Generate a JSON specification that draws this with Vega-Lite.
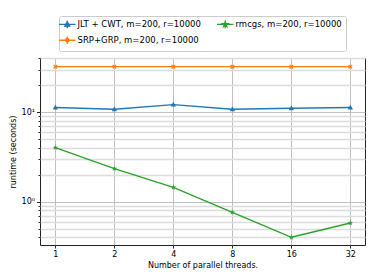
{
  "$schema": "https://vega.github.io/schema/vega-lite/v6.json",
  "width": 325,
  "height": 187,
  "autosize": "none",
  "padding": {"left": 40, "top": 58, "right": 9, "bottom": 35},
  "background": "white",
  "config": {
    "font": "DejaVu Sans",
    "view": {"stroke": "#222222", "strokeWidth": 1},
    "axis": {"labelFont": "DejaVu Sans", "titleFont": "DejaVu Sans", "labelFontSize": 8, "titleFontSize": 8, "titleFontWeight": "normal", "labelColor": "#000000", "titleColor": "#000000", "tickColor": "#222222", "domain": false, "gridColor": "#b0b0b0", "gridWidth": 0.8}
  },
  "data": {
    "values": [
      {"threads": 1, "method": "JLT + CWT, m=200, r=10000", "runtime": 11.3},
      {"threads": 2, "method": "JLT + CWT, m=200, r=10000", "runtime": 10.8},
      {"threads": 4, "method": "JLT + CWT, m=200, r=10000", "runtime": 12.2},
      {"threads": 8, "method": "JLT + CWT, m=200, r=10000", "runtime": 10.8},
      {"threads": 16, "method": "JLT + CWT, m=200, r=10000", "runtime": 11.1},
      {"threads": 32, "method": "JLT + CWT, m=200, r=10000", "runtime": 11.3},
      {"threads": 1, "method": "SRP+GRP, m=200, r=10000", "runtime": 32.4},
      {"threads": 2, "method": "SRP+GRP, m=200, r=10000", "runtime": 32.4},
      {"threads": 4, "method": "SRP+GRP, m=200, r=10000", "runtime": 32.4},
      {"threads": 8, "method": "SRP+GRP, m=200, r=10000", "runtime": 32.4},
      {"threads": 16, "method": "SRP+GRP, m=200, r=10000", "runtime": 32.4},
      {"threads": 32, "method": "SRP+GRP, m=200, r=10000", "runtime": 32.4},
      {"threads": 1, "method": "rmcgs, m=200, r=10000", "runtime": 4.02},
      {"threads": 2, "method": "rmcgs, m=200, r=10000", "runtime": 2.34},
      {"threads": 4, "method": "rmcgs, m=200, r=10000", "runtime": 1.45},
      {"threads": 8, "method": "rmcgs, m=200, r=10000", "runtime": 0.76},
      {"threads": 16, "method": "rmcgs, m=200, r=10000", "runtime": 0.40},
      {"threads": 32, "method": "rmcgs, m=200, r=10000", "runtime": 0.578}
    ]
  },
  "encoding": {
    "x": {
      "field": "threads", "type": "quantitative",
      "scale": {"type": "log", "base": 2, "domain": [0.835, 38], "nice": false},
      "axis": {"values": [1, 2, 4, 8, 16, 32], "title": "Number of parallel threads.", "tickSize": 3, "labelPadding": 2, "titlePadding": 3, "grid": true, "format": "d"}
    },
    "y": {
      "field": "runtime", "type": "quantitative",
      "scale": {"type": "log", "domain": [0.328, 40.5], "nice": false},
      "axis": {
        "values": [0.4, 0.5, 0.6, 0.7, 0.8, 0.9, 1, 2, 3, 4, 5, 6, 7, 8, 9, 10, 20, 30, 40],
        "labelExpr": "datum.value == 1 ? '10⁰' : datum.value == 10 ? '10¹' : ''",
        "title": "runtime (seconds)",
        "titlePadding": 4,
        "labelPadding": 2,
        "tickSize": {"condition": {"test": "datum.value == 1 || datum.value == 10", "value": 3.5}, "value": 2},
        "gridColor": {"condition": {"test": "datum.value == 1 || datum.value == 10", "value": "#b0b0b0"}, "value": "#dcdcdc"},
        "gridWidth": {"condition": {"test": "datum.value == 1 || datum.value == 10", "value": 0.8}, "value": 1.3}
      }
    },
    "color": {"field": "method", "type": "nominal",
      "scale": {"domain": ["JLT + CWT, m=200, r=10000", "rmcgs, m=200, r=10000", "SRP+GRP, m=200, r=10000"], "range": ["#1f77b4", "#2ca02c", "#ff7f0e"]},
      "legend": {
        "orient": "none", "legendX": 19, "legendY": -42, "columns": 2, "title": null,
        "direction": "horizontal",
        "labelFont": "DejaVu Sans", "labelFontSize": 8.5, "labelColor": "#000000",
        "padding": 4, "strokeColor": "#cccccc", "fillColor": "white", "cornerRadius": 2,
        "columnPadding": 13, "rowPadding": 2, "labelOffset": 6,
        "symbolSize": 30, "symbolStrokeWidth": 1.3,
        "encode": {"symbols": {"update": {"stroke": {"scale": "color", "field": "value"}}}}
      }
    }
  },
  "layer": [
    {
      "mark": {"type": "line", "strokeWidth": 1.4}
    },
    {
      "transform": [{"filter": "datum.method == 'JLT + CWT, m=200, r=10000'"}],
      "mark": {"type": "point", "filled": true, "size": 34, "opacity": 1, "shape": "M0,-0.95L0.9,0.65L-0.9,0.65Z"}
    },
    {
      "transform": [{"filter": "datum.method == 'SRP+GRP, m=200, r=10000'"}],
      "mark": {"type": "point", "filled": false, "size": 30, "opacity": 1, "strokeWidth": 1.3, "shape": "M-0.65,-0.65L0.65,0.65M-0.65,0.65L0.65,-0.65"}
    },
    {
      "transform": [{"filter": "datum.method == 'rmcgs, m=200, r=10000'"}],
      "mark": {"type": "point", "filled": true, "size": 34, "opacity": 1, "shape": "M0,-1L0.235,-0.324L0.951,-0.309L0.38,0.124L0.588,0.809L0,0.4L-0.588,0.809L-0.38,0.124L-0.951,-0.309L-0.235,-0.324Z"}
    },
    {
      "transform": [{"filter": "false"}],
      "mark": {"type": "point", "filled": true, "size": 30, "opacity": 1},
      "encoding": {
        "shape": {"field": "method", "type": "nominal",
          "scale": {"domain": ["JLT + CWT, m=200, r=10000", "rmcgs, m=200, r=10000", "SRP+GRP, m=200, r=10000"],
            "range": ["M-3,0L3,0M0,-1.4L0,1.4M0,-0.95L0.9,0.65L-0.9,0.65Z", "M-3,0L3,0M0,-1.4L0,1.4M0,-1L0.235,-0.324L0.951,-0.309L0.38,0.124L0.588,0.809L0,0.4L-0.588,0.809L-0.38,0.124L-0.951,-0.309L-0.235,-0.324Z", "M-3,0L3,0M0,-1.4L0,1.4M-0.65,-0.65L0.65,0.65M-0.65,0.65L0.65,-0.65"]},
          "legend": {
            "orient": "none", "legendX": 19, "legendY": -42, "columns": 2, "title": null,
            "direction": "horizontal",
            "labelFont": "DejaVu Sans", "labelFontSize": 8.5, "labelColor": "#000000",
            "padding": 4, "strokeColor": "#cccccc", "fillColor": "white", "cornerRadius": 2,
            "columnPadding": 13, "rowPadding": 2, "labelOffset": 6,
            "symbolSize": 30, "symbolStrokeWidth": 1.3
          }
        }
      }
    }
  ]
}
